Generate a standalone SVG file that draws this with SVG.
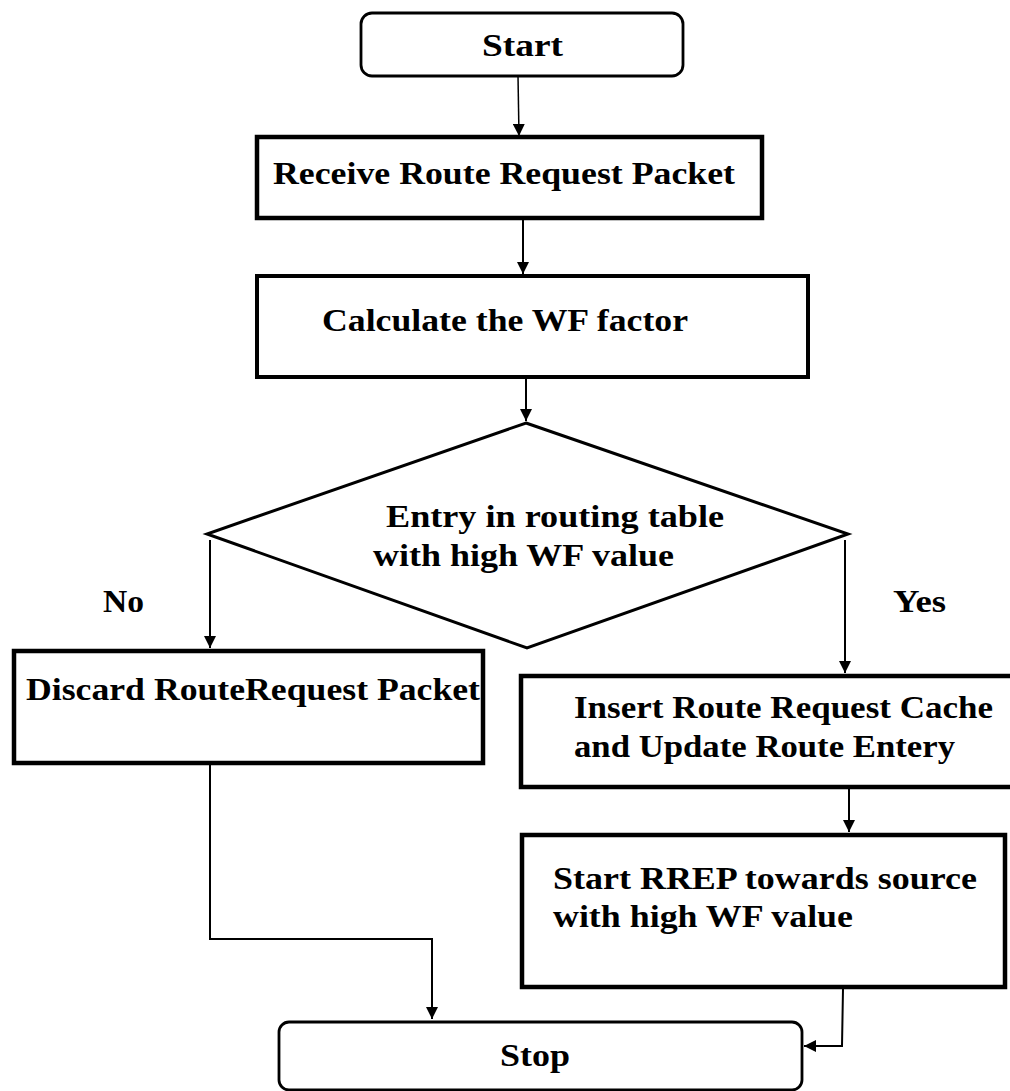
<svg xmlns="http://www.w3.org/2000/svg" width="1010" height="1091" viewBox="0 0 1010 1091">
<style>
.box{fill:#fff;stroke:#000;stroke-width:4.5}
.rbox{fill:#fff;stroke:#000;stroke-width:2.8}
.dia{fill:#fff;stroke:#000;stroke-width:3}
.con{fill:none;stroke:#000;stroke-width:2}
.t{font-family:"Liberation Serif","Times New Roman",serif;font-weight:bold;font-size:31px;fill:#000}
</style>
<defs>
<marker id="ah" viewBox="0 0 12 12" refX="12" refY="6" markerWidth="12" markerHeight="12" markerUnits="userSpaceOnUse" orient="auto">
<path d="M0,0 L12,6 L0,12 Z" fill="#000"/>
</marker>
</defs>
<rect width="1010" height="1091" fill="#fff"/>
<g id="connectors">
<path class="con" style="stroke-width:1.5" d="M518,76 L519,136" marker-end="url(#ah)"/>
<path class="con" d="M523,220 L523,274" marker-end="url(#ah)"/>
<path class="con" d="M526,379 L526,421" marker-end="url(#ah)"/>
<path class="con" d="M210,540 L210,648" marker-end="url(#ah)"/>
<path class="con" d="M845,540 L845,673" marker-end="url(#ah)"/>
<path class="con" d="M849,789 L849,832" marker-end="url(#ah)"/>
<path class="con" d="M210,765 L210,939 L432,939 L432,1019" marker-end="url(#ah)"/>
<path class="con" d="M843,989 L842,1046 L804,1046" marker-end="url(#ah)"/>
</g>
<g id="start">
<rect class="rbox" x="361" y="13" width="322" height="63" rx="11"/>
<text class="t" x="482" y="56" textLength="81" lengthAdjust="spacingAndGlyphs">Start</text>
</g>
<g id="receive">
<rect class="box" x="257" y="137" width="505" height="81"/>
<text class="t" x="273" y="184" textLength="462" lengthAdjust="spacingAndGlyphs">Receive Route Request Packet</text>
</g>
<g id="calculate">
<rect class="box" style="stroke-width:4" x="257" y="276" width="551" height="101"/>
<text class="t" x="322" y="331" textLength="366" lengthAdjust="spacingAndGlyphs">Calculate the WF factor</text>
</g>
<g id="decision">
<polygon class="dia" points="526,423 848,534 527,648 207,534"/>
<text class="t" x="386" y="527" textLength="338" lengthAdjust="spacingAndGlyphs">Entry in routing table</text>
<text class="t" x="373" y="566" textLength="301" lengthAdjust="spacingAndGlyphs">with high WF value</text>
</g>
<g id="label-no">
<text class="t" x="103" y="612" textLength="41" lengthAdjust="spacingAndGlyphs">No</text>
</g>
<g id="label-yes">
<text class="t" x="893" y="612" textLength="53" lengthAdjust="spacingAndGlyphs">Yes</text>
</g>
<g id="discard">
<rect class="box" x="14" y="651" width="469" height="112"/>
<text class="t" x="26" y="700" textLength="454" lengthAdjust="spacingAndGlyphs">Discard RouteRequest Packet</text>
</g>
<g id="insert">
<rect class="box" x="521" y="676" width="500" height="111"/>
<text class="t" x="574" y="718" textLength="419" lengthAdjust="spacingAndGlyphs">Insert Route Request Cache</text>
<text class="t" x="574" y="757" textLength="381" lengthAdjust="spacingAndGlyphs">and Update Route Entery</text>
</g>
<g id="rrep">
<rect class="box" x="522" y="835" width="483" height="152"/>
<text class="t" x="553" y="889" textLength="424" lengthAdjust="spacingAndGlyphs">Start RREP towards source</text>
<text class="t" x="553" y="927" textLength="300" lengthAdjust="spacingAndGlyphs">with high WF value</text>
</g>
<g id="stop">
<rect class="rbox" x="279" y="1022" width="523" height="68" rx="10"/>
<text class="t" x="500" y="1066" textLength="70" lengthAdjust="spacingAndGlyphs">Stop</text>
</g>
</svg>
